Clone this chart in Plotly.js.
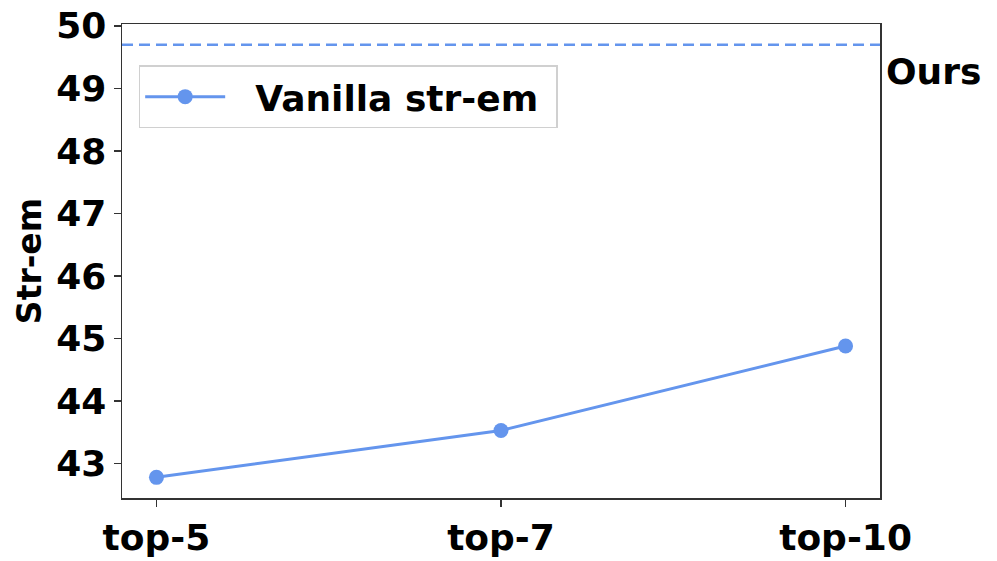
<!DOCTYPE html>
<html>
<head>
<meta charset="utf-8">
<script src="https://cdn.plot.ly/plotly-3.0.1.min.js"></script>
<style>
  html, body { margin: 0; padding: 0; background: #fff; }
  #chart { width: 997px; height: 561px; }
</style>
</head>
<body>
<div id="chart"></div>
<script>
// Datos del gráfico
const categories = ['top-5', 'top-7', 'top-10'];
const vanillaValues = [42.78, 43.53, 44.88];
const oursValue = 49.7;
const yTicks = [43, 44, 45, 46, 47, 48, 49, 50];

const blue = '#6495ED';
const fontFamily = '"DejaVu Sans", Verdana, sans-serif';

const trace = {
    x: categories,
    y: vanillaValues,
    mode: 'lines+markers',
    type: 'scatter',
    // espacios duros para separar el símbolo del texto como en la leyenda original
    name: '\u00a0\u00a0Vanilla str-em\u00a0',
    line: { color: blue, width: 3 },
    marker: { color: blue, size: 15 }
};

const layout = {
    width: 997,
    height: 561,
    margin: { l: 122, r: 117, t: 24, b: 63 },
    paper_bgcolor: '#fff',
    plot_bgcolor: '#fff',
    font: { family: fontFamily, size: 36, color: '#000', weight: 'bold' },
    showlegend: true,
    legend: {
        x: 0.022, y: 0.913, xanchor: 'left', yanchor: 'top',
        bgcolor: '#fff',
        bordercolor: '#d0d0d0',
        borderwidth: 1.5,
        itemwidth: 80,
        font: { family: fontFamily, size: 36, color: '#000', weight: 'bold' }
    },
    xaxis: {
        type: 'category',
        range: [-0.1, 2.1],
        showgrid: false,
        zeroline: false,
        showline: true,
        mirror: true,
        linecolor: '#333',
        linewidth: 1.5,
        ticks: 'outside',
        ticklen: 7,
        tickwidth: 1.5,
        tickcolor: '#333',
        tickfont: { family: fontFamily, size: 36, weight: 'bold' }
    },
    yaxis: {
        range: [42.45, 50.03],
        tickvals: yTicks,
        ticktext: yTicks.map(String),
        showgrid: false,
        zeroline: false,
        showline: true,
        mirror: true,
        linecolor: '#333',
        linewidth: 1.5,
        ticks: 'outside',
        ticklen: 7,
        tickwidth: 1.5,
        tickcolor: '#333',
        tickfont: { family: fontFamily, size: 36, weight: 'bold' },
        title: {
            text: 'Str-em',
            standoff: 4,
            font: { family: fontFamily, size: 33, weight: 'bold' }
        }
    },
    shapes: [{
        type: 'line',
        xref: 'paper', x0: 0, x1: 1,
        yref: 'y', y0: oursValue, y1: oursValue,
        line: { color: blue, width: 2.5, dash: '11px,6px' }
    }],
    annotations: [{
        xref: 'paper', x: 1.005, xanchor: 'left',
        yref: 'y', y: oursValue, yanchor: 'top', yshift: -4,
        text: 'Ours',
        showarrow: false,
        font: { family: fontFamily, size: 36, color: '#000', weight: 'bold' }
    }]
};

Plotly.newPlot('chart', [trace], layout, { displayModeBar: false, staticPlot: true });
</script>
</body>
</html>
